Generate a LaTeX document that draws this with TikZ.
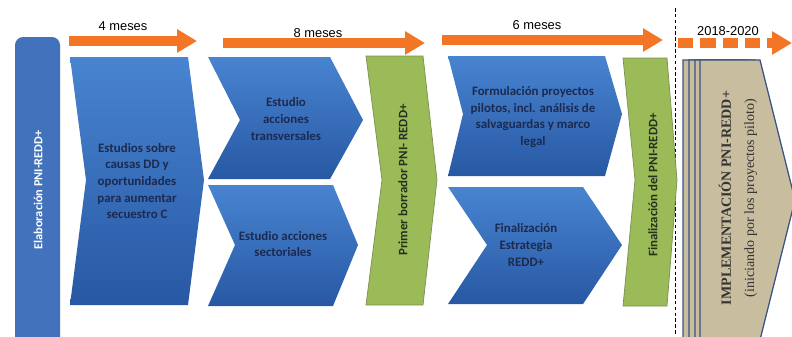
\documentclass[tikz,border=0pt]{standalone}
\usepackage{fontspec}
\setmainfont{Carlito}
\newfontfamily\arialfont{Liberation Sans}
\newfontfamily\timesfont{Liberation Serif}
\usetikzlibrary{arrows.meta,positioning}

\definecolor{arrowOrange}{RGB}{242,118,38}
\definecolor{blueTop}{RGB}{72,132,208}
\definecolor{blueBot}{RGB}{40,88,164}
\definecolor{navyText}{RGB}{28,42,80}
\definecolor{oliveText}{RGB}{38,48,30}
\definecolor{greenFill}{RGB}{155,187,89}
\definecolor{greenLine}{RGB}{118,146,78}
\definecolor{tanFill}{RGB}{200,189,158}
\definecolor{slateLine}{RGB}{58,84,130}
\definecolor{barBlue}{RGB}{67,114,188}

% chevron: style, left x, right x, top y, bottom y, notch x, tip x, middle y
\newcommand{\chev}[8]{\path[#1] (#2,#4) -- (#3,#4) -- (#7,#8) -- (#3,#5) -- (#2,#5) -- (#6,#8) -- cycle;}

\begin{document}
\begin{tikzpicture}[x=0.03cm,y=-0.03cm,
    bluechev/.style={top color=blueTop,bottom color=blueBot,draw=none},
    greenchev/.style={fill=greenFill,draw=greenLine,line width=0.6pt},
    tanchev/.style={fill=tanFill,draw=slateLine,line width=1.1pt},
    chevtext/.style={align=center,text=navyText,font=\fontsize{11}{14.2}\selectfont\bfseries},
    verttext/.style={rotate=90,text=oliveText,font=\fontsize{11}{13}\selectfont\bfseries},
    tlarrow/.style={draw=arrowOrange,line width=8.5pt,-{Triangle[length=17pt,width=19pt]}},
    tllabel/.style={font=\arialfont\fontsize{11}{13}\selectfont}]
  \useasboundingbox (0,0) rectangle (792,336);
  \clip (0,0) rectangle (792,336);

  % timeline arrows
  \coordinate (a1s) at (69,41);  \coordinate (a1e) at (197,41);
  \coordinate (a2s) at (223,43); \coordinate (a2e) at (425,43);
  \coordinate (a3s) at (442,40); \coordinate (a3e) at (663,40);
  \coordinate (a4s) at (678,43); \coordinate (a4e) at (792,43);
  \draw[tlarrow] (a1s) -- (a1e);
  \draw[tlarrow] (a2s) -- (a2e);
  \draw[tlarrow] (a3s) -- (a3e);
  \draw[tlarrow,dash pattern=on 13pt off 6pt] (a4s) -- (a4e);
  \node[tllabel] (m4) at (123,26) {4 meses};
  \node[tllabel] (m8) at (318,33) {8 meses};
  \node[tllabel] (m6) at (537,25) {6 meses};
  \node[tllabel] (yrs) at (728,31) {2018-2020};

  % separator
  \coordinate (sepTop) at (675,8);
  \coordinate (sepBot) at (675,336);
  \draw[densely dashed,line width=0.8pt] (sepTop) -- (sepBot);

  % left bar
  \fill[barBlue,rounded corners=7pt] (15,350) -- (15,37) -- (60,37) -- (60,350) -- cycle;
  \node[verttext,text=white,font=\fontsize{10.5}{12}\selectfont\bfseries] (elab) at (38,190) {Elaboración PNI-REDD+};

  % blue chevrons
  \chev{bluechev}{70}{188}{57}{305}{86}{204}{180}
  \chev{bluechev}{208}{330}{57}{179}{240}{363}{120}
  \chev{bluechev}{208}{333}{185}{306}{235}{358}{245}
  \chev{bluechev}{448}{605}{56}{176}{463}{622}{114}
  \chev{bluechev}{448}{583}{187}{304}{487}{622}{245}
  \node[chevtext] (causas) at (137,181) {Estudios sobre\\causas DD y\\oportunidades\\para aumentar\\secuestro C};
  \node[chevtext] (transv) at (286,119) {Estudio\\acciones\\transversales};
  \node[chevtext] (sector) at (283,244) {Estudio acciones\\sectoriales};
  \node[chevtext] (formul) at (533,117) {Formulación proyectos\\pilotos, incl. análisis de\\salvaguardas y marco\\legal};
  \node[chevtext] (estrat) at (526,245) {Finalización\\Estrategia\\REDD+};

  % green chevrons
  \chev{greenchev}{366}{423}{56}{305}{382}{437}{180}
  \chev{greenchev}{623}{667}{58}{306}{635}{677}{180}
  \node[verttext] (borrador) at (403,180) {Primer borrador PNI- REDD+};
  \node[verttext] (final) at (653,185) {Finalización del PNI-REDD+};

  % implementation stack
  \foreach \dx in {-17,-11,-5,0}
    \chev{tanchev}{700+\dx}{760+\dx}{60}{340}{700+\dx}{795+\dx}{200}
  \node[rotate=90,align=center,text=black!80,font=\timesfont\fontsize{12}{20}\selectfont] (impl) at (738,198)
    {\textbf{IMPLEMENTACIÓN PNI-REDD+}\\(iniciando por los proyectos piloto)};
\end{tikzpicture}
\end{document}
